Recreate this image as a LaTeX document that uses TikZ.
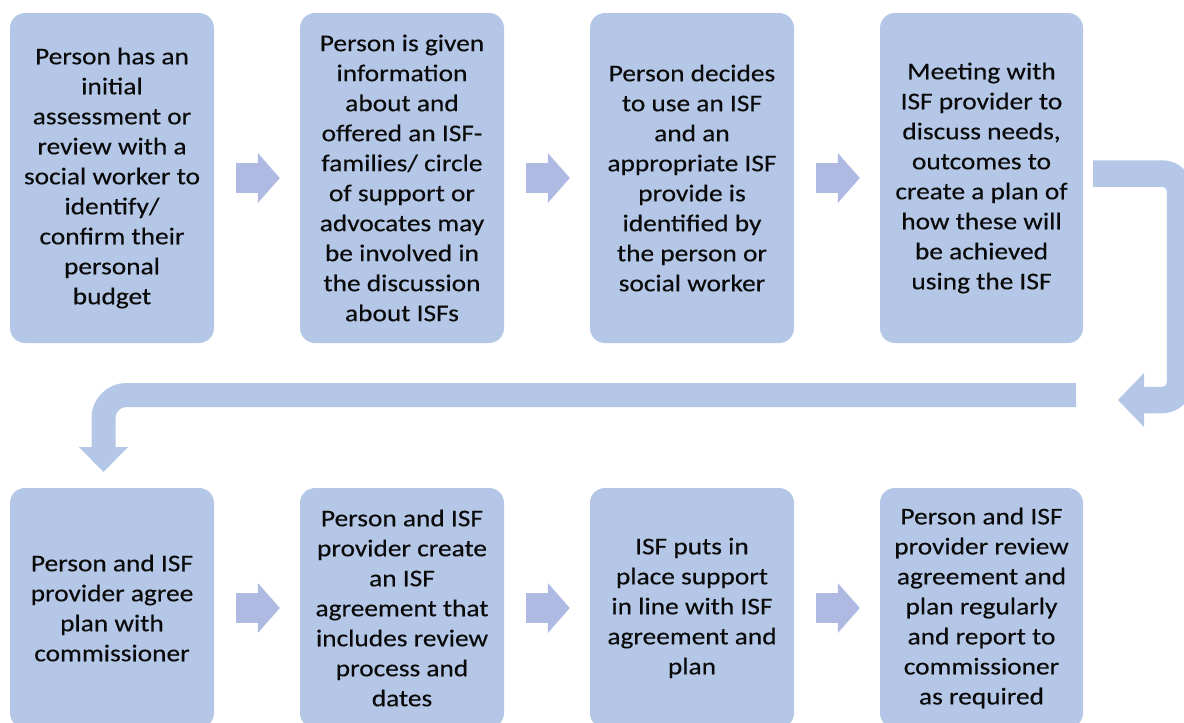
\documentclass[tikz,border=0pt]{standalone}
\usepackage{fontspec}
\setmainfont{Carlito}[FakeStretch=1.14,FakeBold=0.3]
\usetikzlibrary{arrows.meta}
\definecolor{boxfill}{HTML}{B4C7E7}
\definecolor{blockarrow}{HTML}{AFBAE2}
\definecolor{bandfill}{HTML}{B4C7E7}
\definecolor{txt}{HTML}{0A0A0A}
\begin{document}
\begin{tikzpicture}[x=1pt,y=-1pt,
  stepbox/.style={fill=boxfill, draw=none, rounded corners=15pt, inner sep=0pt,
    minimum width=204pt, align=center, text=txt,
    font=\fontsize{24}{30}\selectfont},
  toprow/.style={stepbox, minimum height=330pt},
  botrow/.style={stepbox, minimum height=240pt},
  flow/.style={draw=blockarrow, line width=30pt,
    -{Triangle[length=22pt,width=50pt,line width=0pt]},
    shorten <=22pt, shorten >=20pt},
  band/.style={draw=bandfill, rounded corners=#1}
]
\useasboundingbox (0,0) rectangle (1184,723);
\clip (0,0) rectangle (1184,723);

% top row
\node[toprow] (b1) at (112,178) {Person has an\\initial\\assessment or\\review with a\\social worker to\\identify/\\confirm their\\personal\\budget};
\node[toprow] (b2) at (402,178) {Person is given\\information\\about and\\offered an ISF-\\families/ circle\\of support or\\advocates may\\be involved in\\the discussion\\about ISFs};
\node[toprow] (b3) at (692,178) {Person decides\\to use an ISF\\and an\\appropriate ISF\\provide is\\identified by\\the person or\\social worker};
\node[toprow, minimum width=203pt] (b4) at (981.5,178) {Meeting with\\ISF provider to\\discuss needs,\\outcomes to\\create a plan of\\how these will\\be achieved\\using the ISF};

% bottom row
\node[botrow] (b5) at (112,608) {Person and ISF\\provider agree\\plan with\\commissioner};
\node[botrow] (b6) at (402,608) {Person and ISF\\provider create\\an ISF\\agreement that\\includes review\\process and\\dates};
\node[botrow] (b7) at (692,608) {ISF puts in\\place support\\in line with ISF\\agreement and\\plan};
\node[botrow, minimum width=203pt] (b8) at (981.5,608) {Person and ISF\\provider review\\agreement and\\plan regularly\\and report to\\commissioner\\as required};

% block arrows between neighbouring steps
\draw[flow] (b1.east) -- (b2.west);
\draw[flow] (b2.east) -- (b3.west);
\draw[flow] (b3.east) -- (b4.west);
\draw[flow] (b5.east) -- (b6.west);
\draw[flow] (b6.east) -- (b7.west);
\draw[flow] (b7.east) -- (b8.west);

% wrap-around connectors from the top row to the bottom row
\coordinate (r0) at (1093,173.5);
\coordinate (r1) at (1180,173.5);
\coordinate (r2) at (1180,400);
\coordinate (r3) at (1118,400);
\draw[band=18pt, line width=26.5pt,
  -{Triangle[length=26pt,width=54pt,line width=0pt]}] (r0) -- (r1) -- (r2) -- (r3);

\coordinate (l0) at (1076,395);
\coordinate (l1) at (103.5,395);
\coordinate (l2) at (103.5,472);
\draw[band=23pt, line width=24pt,
  -{Triangle[length=25pt,width=49pt,line width=0pt]}] (l0) -- (l1) -- (l2);
\end{tikzpicture}
\end{document}
